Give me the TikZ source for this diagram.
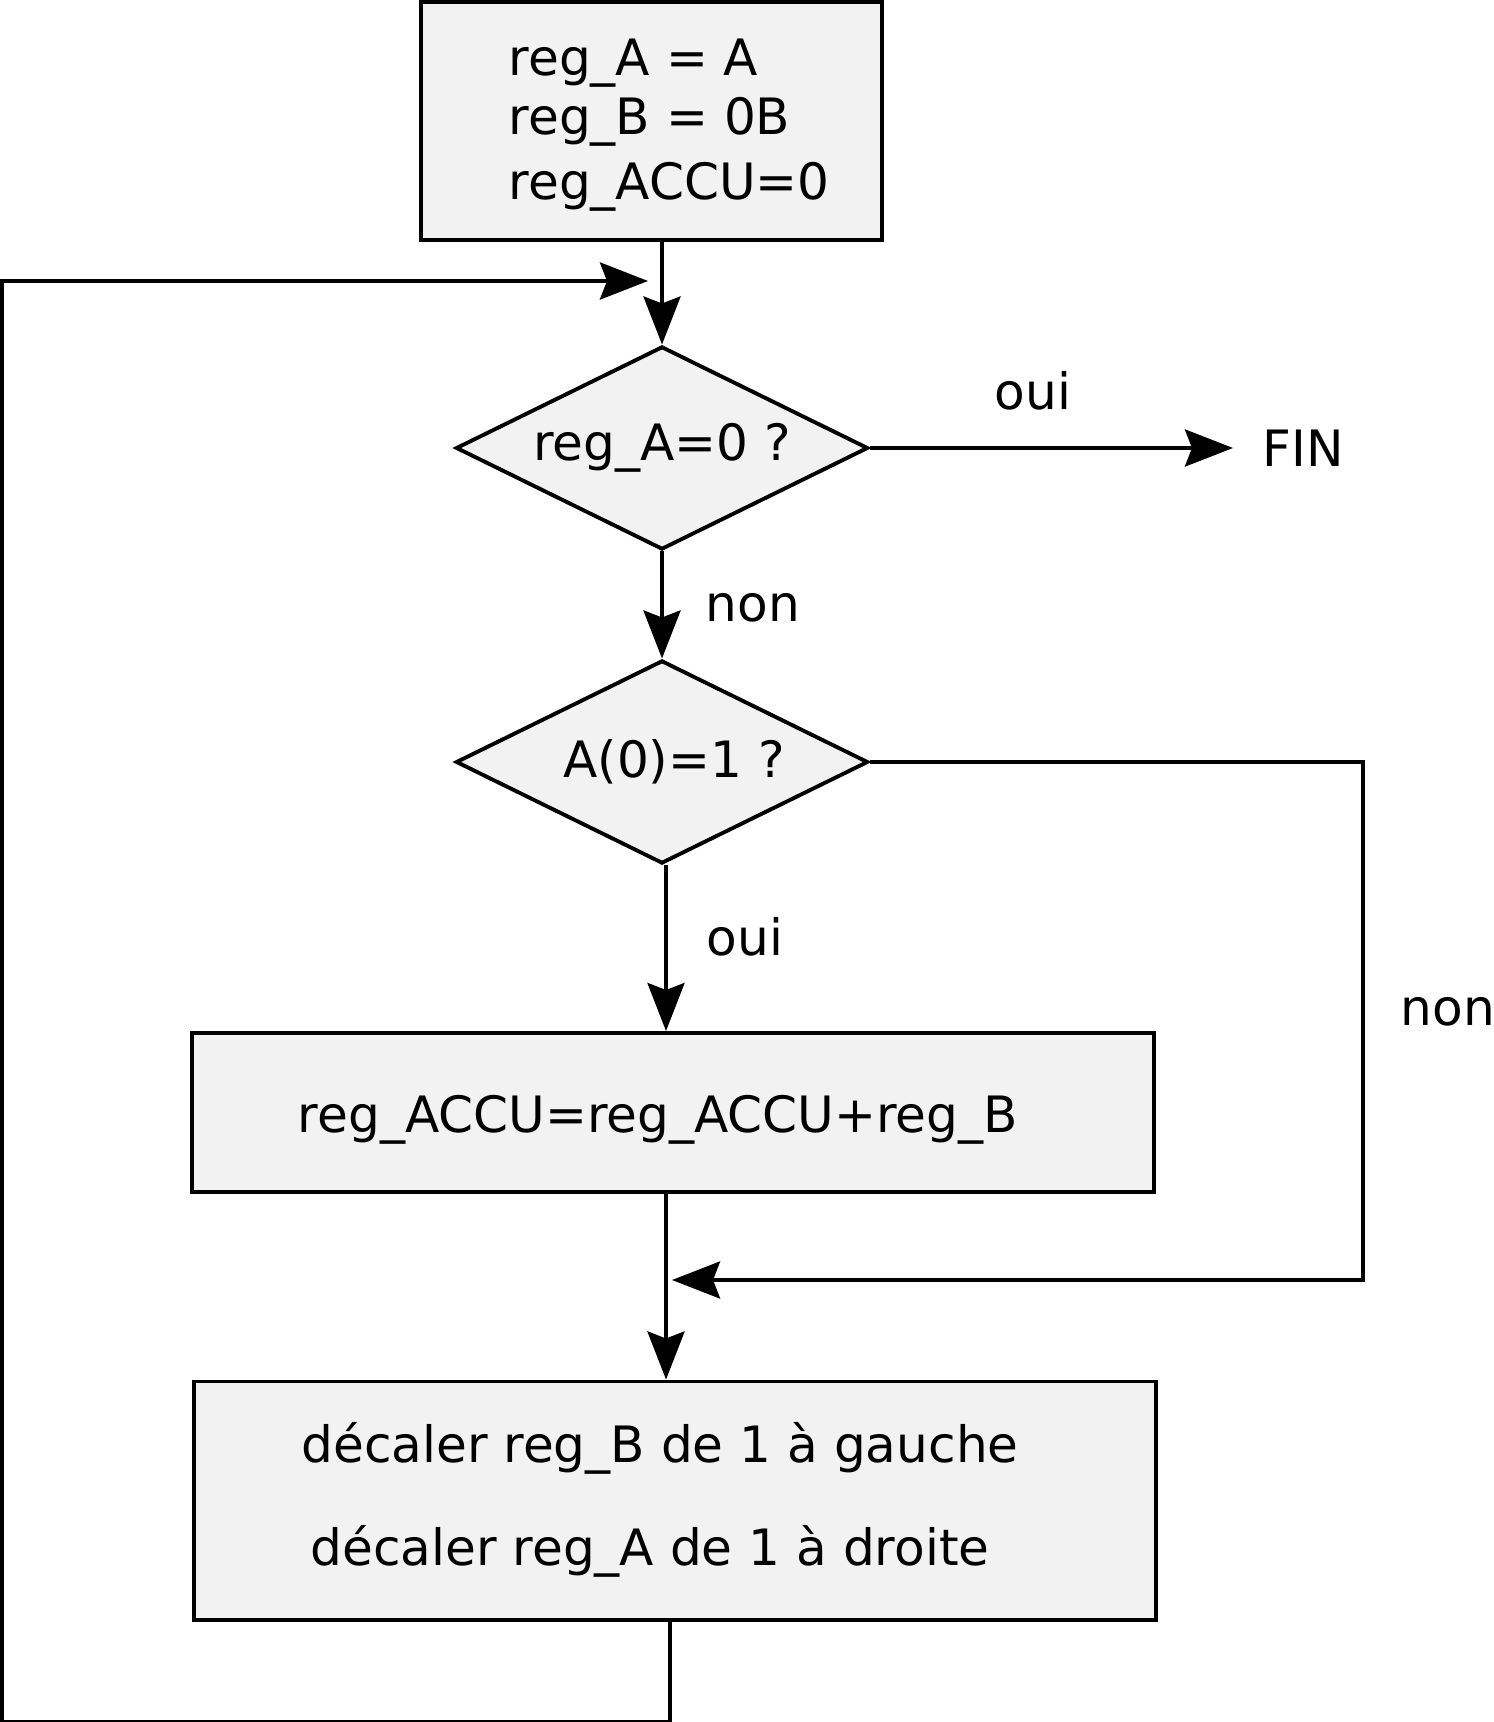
\documentclass[tikz,border=0pt]{standalone}
\usepackage{fontspec}
\setmainfont{DejaVu Sans}
\usetikzlibrary{shapes.geometric,arrows.meta}
\definecolor{boxfill}{HTML}{F2F2F2}

\begin{document}
\begin{tikzpicture}[x=0.01cm, y=-0.01cm,
  box/.style={draw, fill=boxfill, line width=1.1pt, inner sep=0pt},
  test/.style={draw, fill=boxfill, diamond, aspect=2.1, line width=1.1pt,
    inner sep=0pt, minimum width=4.12cm, minimum height=2.03cm},
  txt/.style={inner sep=0pt, anchor=base west},
  line/.style={inner sep=0pt, anchor=base},
  arrow/.style={-{Stealth[length=0.48cm, width=0.37cm, inset=0.07cm]}, line width=1.1pt},
  every node/.style={font=\fontsize{14.25}{17.9}\selectfont}
 ]
\useasboundingbox (0,0) rectangle (1493,1722);

\node[box, minimum width=4.61cm, minimum height=2.38cm] (init) at (651.5,121) {};
\node[txt] (initA) at (508,76) {reg\_A = A};
\node[txt] (initB) at (508,135) {reg\_B = 0B};
\node[txt] (initC) at (508,200) {reg\_ACCU=0};

\node[test] (d1) at (662,448) {reg\_A=0 ?};
\node[test] (d2) at (662,762) {\hspace*{0.24cm}A(0)=1 ?};

\node[box, minimum width=9.62cm, minimum height=1.59cm] (calc) at (673,1112.5) {};
\node[line] (calcT) at (658,1132) {reg\_ACCU=reg\_ACCU+reg\_B};

\node[box, minimum width=9.61cm, minimum height=2.38cm] (shift) at (675,1500.5) {};
\node[line] (shiftB) at (660,1462) {décaler reg\_B de 1 à gauche};
\node[line] (shiftA) at (650,1565) {décaler reg\_A de 1 à droite};

\node[anchor=west, inner sep=0pt] (fin) at (1262,448) {FIN};
\node[txt] (oui1) at (994,410) {oui};
\node[txt] (non1) at (705,621) {non};
\node[txt] (oui2) at (706,955) {oui};
\node[txt] (non2) at (1400,1025) {non};

% main flow
\draw[arrow] (init.south -| d1.north) -- (d1.north);
\draw[arrow, shorten >=0.29cm] (d1) -- (fin);
\draw[arrow] (d1.south) -- (d2.north);
\draw[arrow] ([xshift=0.04cm]d2.south) -- ([xshift=0.04cm]d2.south |- calc.north);
\draw[arrow] ([xshift=0.04cm]calc.south -| d2.south) -- ([xshift=0.04cm]shift.north -| d2.south);

% bypass when A(0)=0
\coordinate (rc) at (1363,1280);
\coordinate (join) at (672,1280);
\draw[arrow] (d2.east) -| (rc) -- (join);

% loop back
\coordinate (loopS) at ([xshift=-0.05cm]shift.south);
\coordinate (loopE) at (648,281);
\draw[arrow] (loopS) -- ++(0,100) -| (2,281) -- (loopE);
\end{tikzpicture}
\end{document}
